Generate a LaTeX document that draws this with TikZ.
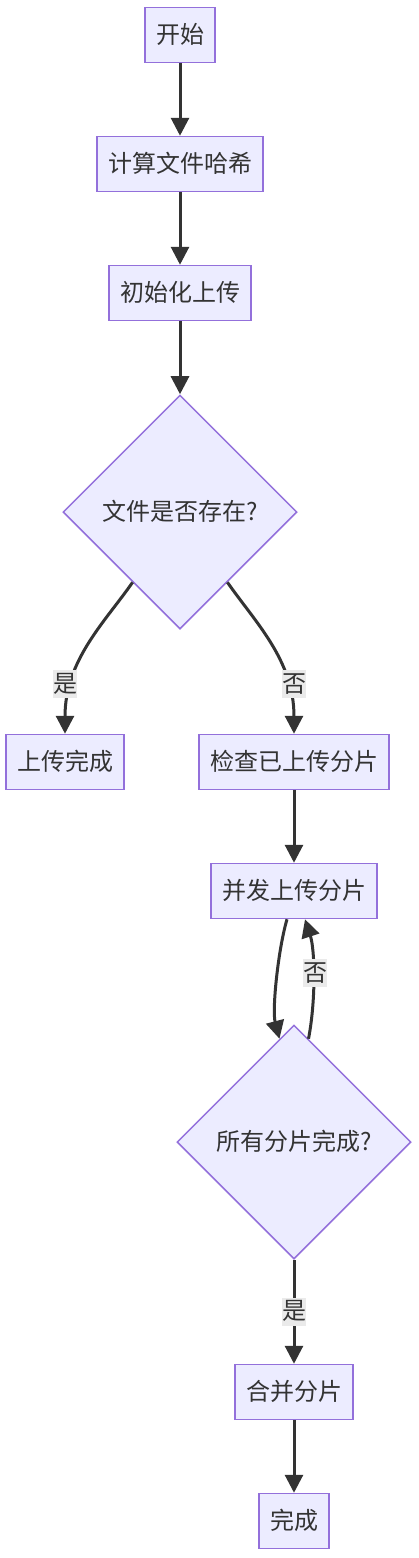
\documentclass[tikz,border=0pt]{standalone}
\usepackage{fontspec}
\newfontfamily\cjk{Noto Sans CJK SC}
\usetikzlibrary{shapes.geometric,arrows.meta}
\definecolor{boxfill}{HTML}{ECECFF}
\definecolor{boxline}{HTML}{9370DB}
\definecolor{ink}{HTML}{333333}
\definecolor{lblbg}{HTML}{EAEAEA}

\begin{document}
\begin{tikzpicture}[x=1pt, y=-1pt, >={Triangle[length=18pt,width=18pt]},
    every node/.style={font=\cjk\fontsize{24pt}{28pt}\selectfont, text=ink, text height=20pt, text depth=4pt},
    box/.style={draw=boxline, fill=boxfill, line width=1.5pt, inner xsep=11pt, inner ysep=0pt, minimum height=55pt},
    ask/.style={diamond, draw=boxline, fill=boxfill, line width=1.5pt, inner sep=0pt, minimum width=234pt, minimum height=234pt},
    lbl/.style={fill=lblbg, inner sep=0pt, minimum height=28pt},
    arr/.style={->, draw=ink, line width=3pt}]
    \useasboundingbox (0,0) rectangle (418,1558);

    \node[box] (start) at (180,35) {开始};
    \node[box] (hash) at (180,164) {计算文件哈希};
    \node[box] (init) at (180,293) {初始化上传};
    \node[ask] (exists) at (180,512) {文件是否存在?};
    \node[box] (skip) at (65,762) {上传完成};
    \node[box] (check) at (294,762) {检查已上传分片};
    \node[box] (upload) at (294,891) {并发上传分片};
    \node[ask] (alldone) at (294,1142) {所有分片完成?};
    \node[box] (merge) at (294,1392) {合并分片};
    \node[box] (finish) at (294,1521) {完成};

    \draw[arr] (start) -- (hash);
    \draw[arr] (hash) -- (init);
    \draw[arr] (init) -- (exists);
    \draw[arr] (exists.236) .. controls (105,622) and (65,660) .. (skip) node[lbl] at (65,684) {是};
    \draw[arr] (exists.304) .. controls (255,622) and (294,660) .. (check) node[lbl] at (294,684) {否};
    \draw[arr] (check) -- (upload);
    \draw[arr] ([xshift=-7pt]upload.south) .. controls (278,950) and (272,1010) .. (alldone.98);
    \draw[arr] (alldone.82) .. controls (316,1000) and (315,950) .. ([xshift=11pt]upload.south) node[lbl] at (315,973) {否};
    \draw[arr] (alldone) -- (merge) node[lbl, midway] {是};
    \draw[arr] (merge) -- (finish);
\end{tikzpicture}
\end{document}
